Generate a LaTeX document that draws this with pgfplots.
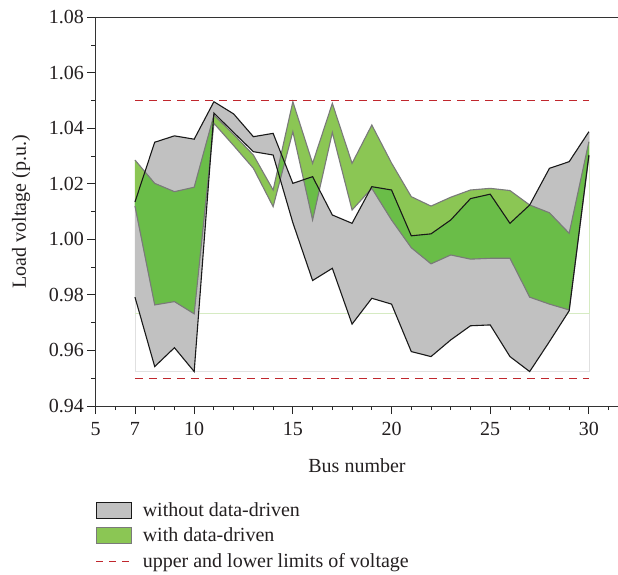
\documentclass[border=0pt]{standalone}
\usepackage{pgfplots}
\pgfplotsset{compat=1.18}
\usepgfplotslibrary{fillbetween}
\usepackage{pgfplotstable}
\usepackage{fontspec}
\setmainfont{Liberation Serif}

\definecolor{bandgray}{RGB}{193,193,193}
\definecolor{lightgrn}{RGB}{139,198,84}
\definecolor{darkgrn}{RGB}{106,189,72}
\definecolor{edgegray}{RGB}{122,122,122}
\definecolor{limitred}{RGB}{192,39,45}
\definecolor{inkblack}{RGB}{35,31,32}
\newcommand\fs{\fontsize{20}{24}\selectfont}

% load voltage envelopes per bus:
% gu/gl = upper/lower bound without data-driven control
% wu/wl = upper/lower bound with data-driven control
\pgfplotstableread{
bus  gu      gl      wu      wl
7    1.0135  0.9792  1.0286  1.0120
8    1.0350  0.9542  1.0202  0.9764
9    1.0373  0.9610  1.0172  0.9776
10   1.0361  0.9524  1.0188  0.9732
11   1.0496  1.0455  1.0448  1.0418
12   1.0452  1.0385  1.0378  1.0338
13   1.0370  1.0316  1.0304  1.0256
14   1.0382  1.0304  1.0178  1.0118
15   1.0202  1.0060  1.0496  1.0388
16   1.0226  0.9852  1.0274  1.0070
17   1.0088  0.9896  1.0490  1.0385
18   1.0058  0.9695  1.0274  1.0106
19   1.0190  0.9788  1.0412  1.0184
20   1.0178  0.9767  1.0275  1.0070
21   1.0013  0.9596  1.0154  0.9970
22   1.0020  0.9578  1.0120  0.9912
23   1.0070  0.9638  1.0152  0.9944
24   1.0147  0.9689  1.0178  0.9929
25   1.0163  0.9692  1.0184  0.9932
26   1.0058  0.9578  1.0176  0.9932
27   1.0124  0.9524  1.0124  0.9792
28   1.0256  0.9632  1.0096  0.9767
29   1.0280  0.9743  1.0022  0.9746
30   1.0388  1.0304  1.0352  1.0300
}\volt

% voltage limits
\pgfplotstableread{
bus  up    lo
7    1.05  0.95
30   1.05  0.95
}\limits

\begin{document}
\begin{tikzpicture}
\path[use as bounding box] (0,0) rectangle (618pt,574pt);
\begin{axis}[
  at={(95.5pt,168pt)}, anchor=south west,
  scale only axis, width=523pt, height=388.7pt,
  xmin=5, xmax=31.5, ymin=0.94, ymax=1.08,
  xtick pos=bottom, ytick pos=left,
  axis line style={line width=0.9pt, black!80},
  xtick={5,7,10,15,20,25,30},
  minor xtick={6,8,9,11,12,13,14,16,17,18,19,21,22,23,24,26,27,28,29,31},
  ytick={0.94,0.96,0.98,1.00,1.02,1.04,1.06,1.08},
  minor ytick={0.95,0.97,0.99,1.01,1.03,1.05,1.07},
  tick align=outside,
  major tick length=8pt, minor tick length=4pt,
  tick style={line width=0.9pt, black!85},
  yticklabel style={/pgf/number format/.cd, fixed, fixed zerofill, precision=2},
  xticklabel style={yshift=-5pt},
  /pgf/number format/assume math mode=true,
  tick label style={font=\fs, text=inkblack},
  label style={font=\fs, text=inkblack},
  xlabel={Bus number},
  ylabel={Load voltage (p.u.)},
  xlabel style={yshift=-16pt},
  ylabel style={yshift=12pt},
  legend style={at={(0,-0.243)}, anchor=north west, draw=none, fill=none,
    font=\fs, text=inkblack, row sep=6pt, inner sep=0pt},
  legend cell align=left,
]
% bounding guides of the two envelopes
\addplot[draw=black!12, line width=0.7pt, forget plot]
  coordinates {(7,0.9792) (7,0.9524) (30,0.9524) (30,1.0388)};
\addplot[draw=lightgrn!35, line width=0.7pt, forget plot]
  coordinates {(7,0.9732) (30,0.9732) (30,1.0352)};

% named boundary paths
\addplot[draw=none, name path=gu, forget plot] table[x=bus, y=gu] {\volt};
\addplot[draw=none, name path=gl, forget plot] table[x=bus, y=gl] {\volt};
\addplot[draw=none, name path=wu, forget plot] table[x=bus, y=wu] {\volt};
\addplot[draw=none, name path=wl, forget plot] table[x=bus, y=wl] {\volt};

% envelopes
\fill[bandgray, intersection segments={of=gu and gl, sequence={A* -- B*[reverse]}}];
\fill[lightgrn, intersection segments={of=wu and wl, sequence={A* -- B*[reverse]}}];
\begin{scope}
  \clip[intersection segments={of=gu and gl, sequence={A* -- B*[reverse]}}];
  \fill[darkgrn, intersection segments={of=wu and wl, sequence={A* -- B*[reverse]}}];
\end{scope}

% outlines
\addplot[edgegray, line width=1.1pt, forget plot] table[x=bus, y=wu] {\volt};
\addplot[edgegray, line width=1.1pt, forget plot] table[x=bus, y=wl] {\volt};
\addplot[black!90, line width=1.1pt, forget plot] table[x=bus, y=gu] {\volt};
\addplot[black!90, line width=1.1pt, forget plot] table[x=bus, y=gl] {\volt};

% limits
\addplot[limitred, line width=1.1pt, dash pattern=on 8pt off 6pt, forget plot]
  table[x=bus, y=up] {\limits};
\addplot[limitred, line width=1.1pt, dash pattern=on 8pt off 6pt, forget plot]
  table[x=bus, y=lo] {\limits};

% legend
\addlegendimage{legend image code/.code={\draw[fill=bandgray, draw=black!90, line width=1.1pt] (0pt,-8pt) rectangle (35pt,8pt);}}
\addlegendentry{\hspace*{8pt}without data-driven}
\addlegendimage{legend image code/.code={\draw[fill=lightgrn, draw=edgegray, line width=1.1pt] (0pt,-8pt) rectangle (35pt,8pt);}}
\addlegendentry{\hspace*{8pt}with data-driven}
\addlegendimage{legend image code/.code={\draw[limitred, line width=1.1pt, dash pattern=on 7pt off 6pt] (0pt,0pt) -- (36pt,0pt);}}
\addlegendentry{\hspace*{8pt}upper and lower limits of voltage}
\end{axis}
\end{tikzpicture}
\end{document}
